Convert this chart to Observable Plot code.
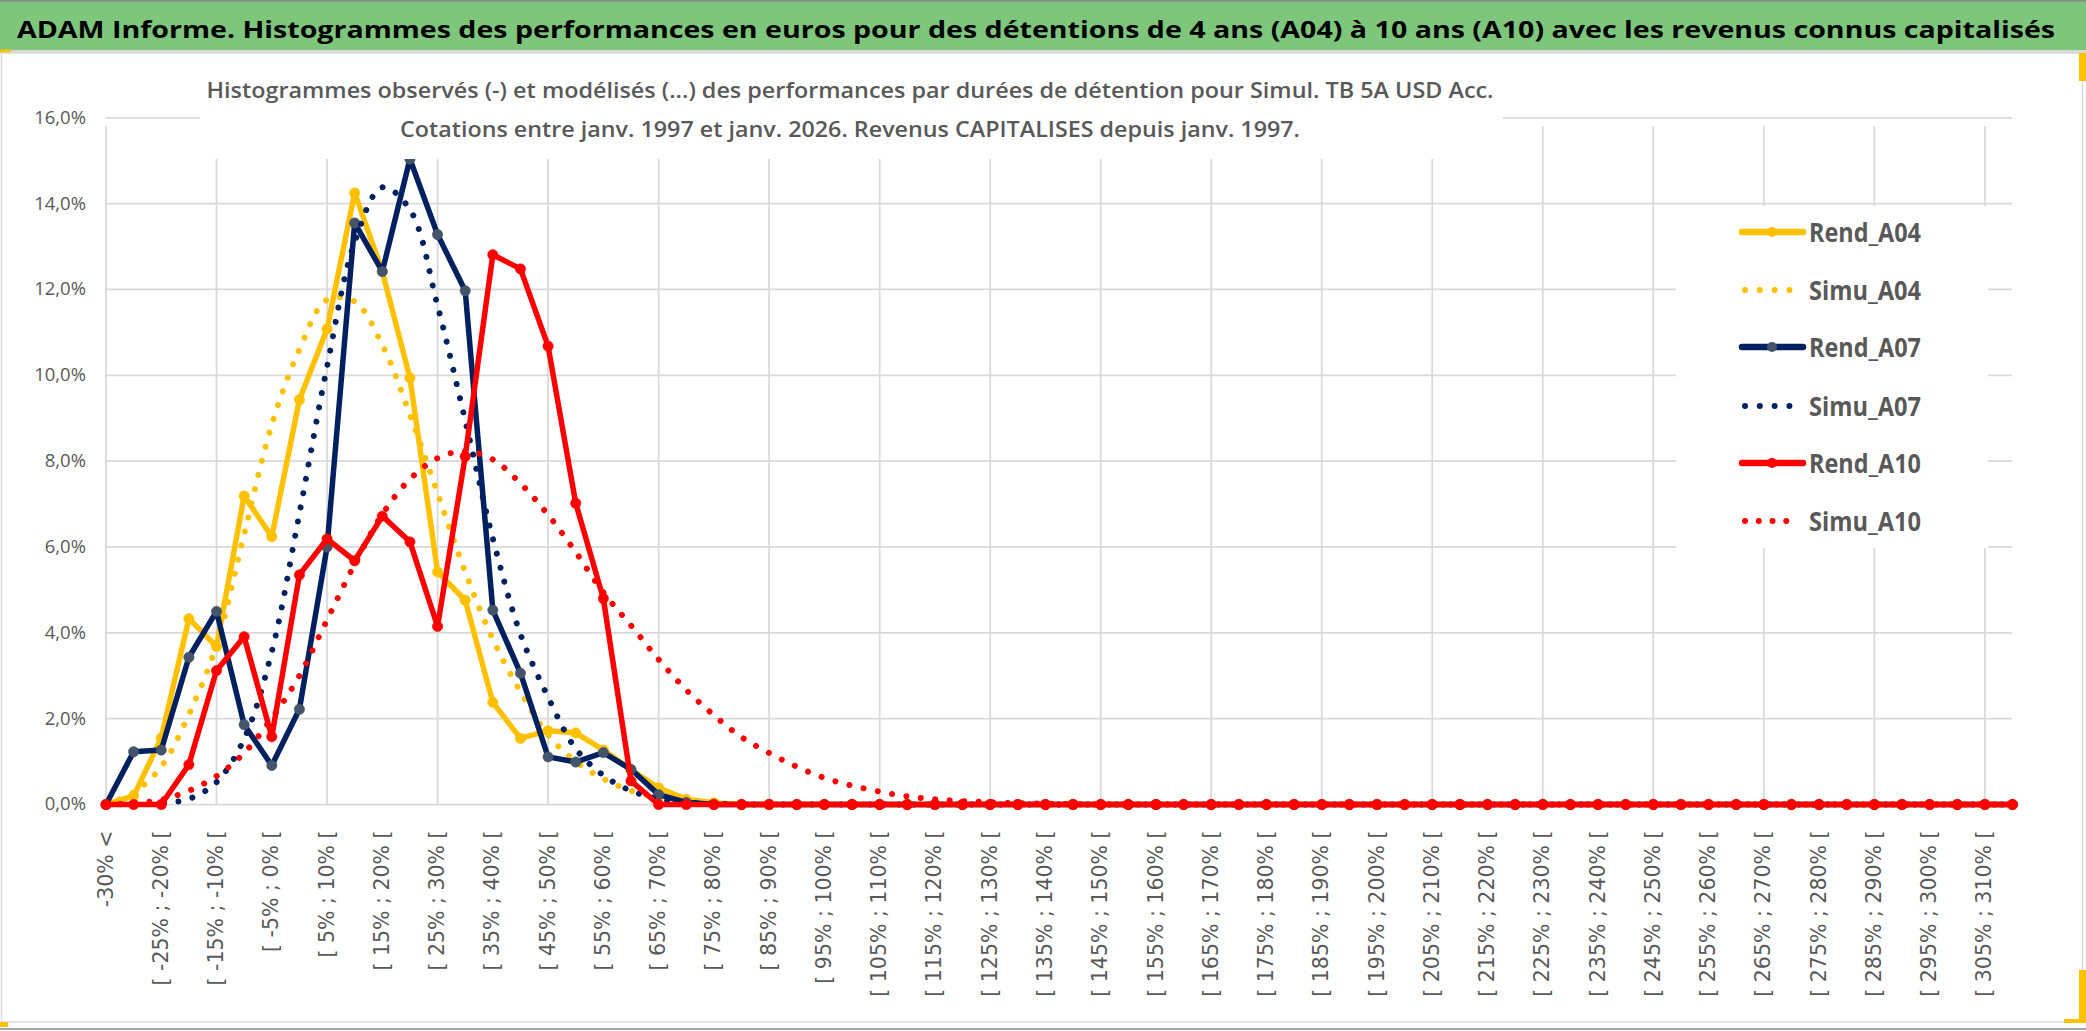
<!DOCTYPE html>
<html><head><meta charset="utf-8">
<script src="https://cdn.jsdelivr.net/npm/d3@7"></script>
<script src="https://cdn.jsdelivr.net/npm/@observablehq/plot@0.6"></script>
<style>
html,body{margin:0;padding:0;background:#fff;}
#root{position:relative;width:2086px;height:1031px;overflow:hidden;background:#fff;}
#chart{position:absolute;left:0;top:53px;}
#overlay{position:absolute;left:0;top:0;pointer-events:none;}
</style></head><body><div id="root"><div id="chart"></div></div>
<script>
const categories = [
"-30% <",
"[ -30% ; -25% [","[ -25% ; -20% [","[ -20% ; -15% [","[ -15% ; -10% [","[ -10% ; -5% [",
"[ -5% ; 0% [","[ 0% ; 5% [","[ 5% ; 10% [","[ 10% ; 15% [","[ 15% ; 20% [",
"[ 20% ; 25% [","[ 25% ; 30% [","[ 30% ; 35% [","[ 35% ; 40% [","[ 40% ; 45% [",
"[ 45% ; 50% [","[ 50% ; 55% [","[ 55% ; 60% [","[ 60% ; 65% [","[ 65% ; 70% [",
"[ 70% ; 75% [","[ 75% ; 80% [","[ 80% ; 85% [","[ 85% ; 90% [","[ 90% ; 95% [",
"[ 95% ; 100% [","[ 100% ; 105% [","[ 105% ; 110% [","[ 110% ; 115% [","[ 115% ; 120% [",
"[ 120% ; 125% [","[ 125% ; 130% [","[ 130% ; 135% [","[ 135% ; 140% [","[ 140% ; 145% [",
"[ 145% ; 150% [","[ 150% ; 155% [","[ 155% ; 160% [","[ 160% ; 165% [","[ 165% ; 170% [",
"[ 170% ; 175% [","[ 175% ; 180% [","[ 180% ; 185% [","[ 185% ; 190% [","[ 190% ; 195% [",
"[ 195% ; 200% [","[ 200% ; 205% [","[ 205% ; 210% [","[ 210% ; 215% [","[ 215% ; 220% [",
"[ 220% ; 225% [","[ 225% ; 230% [","[ 230% ; 235% [","[ 235% ; 240% [","[ 240% ; 245% [",
"[ 245% ; 250% [","[ 250% ; 255% [","[ 255% ; 260% [","[ 260% ; 265% [","[ 265% ; 270% [",
"[ 270% ; 275% [","[ 275% ; 280% [","[ 280% ; 285% [","[ 285% ; 290% [","[ 290% ; 295% [",
"[ 295% ; 300% [","[ 300% ; 305% [","[ 305% ; 310% [","310% >"
];

const rendA04 = [
0, 0.2, 1.55, 4.33, 3.68, 7.19, 6.24, 9.43, 11.08, 14.25,
12.42, 9.94, 5.42, 4.76, 2.38, 1.54, 1.72, 1.67, 1.27, 0.81,
0.39, 0.12, 0.04, 0, 0, 0, 0, 0, 0, 0,
0, 0, 0, 0, 0, 0, 0, 0, 0, 0,
0, 0, 0, 0, 0, 0, 0, 0, 0, 0,
0, 0, 0, 0, 0, 0, 0, 0, 0, 0,
0, 0, 0, 0, 0, 0, 0, 0, 0, 0
];
const simuA04 = [
0, 0.28, 0.88, 2.1, 3.72, 6.3, 8.85, 10.6, 11.76, 11.72,
10.71, 9.08, 7.25, 5.42, 3.85, 2.63, 1.62, 1.0, 0.6, 0.32,
0.16, 0.07, 0.03, 0.01, 0, 0, 0, 0, 0, 0,
0, 0, 0, 0, 0, 0, 0, 0, 0, 0,
0, 0, 0, 0, 0, 0, 0, 0, 0, 0,
0, 0, 0, 0, 0, 0, 0, 0, 0, 0,
0, 0, 0, 0, 0, 0, 0, 0, 0, 0
];
const rendA07 = [
0, 1.23, 1.27, 3.43, 4.5, 1.86, 0.91, 2.22, 6.0, 13.55,
12.42, 15.04, 13.28, 11.97, 4.53, 3.06, 1.11, 0.99, 1.21, 0.82,
0.23, 0.05, 0, 0, 0, 0, 0, 0, 0, 0,
0, 0, 0, 0, 0, 0, 0, 0, 0, 0,
0, 0, 0, 0, 0, 0, 0, 0, 0, 0,
0, 0, 0, 0, 0, 0, 0, 0, 0, 0,
0, 0, 0, 0, 0, 0, 0, 0, 0, 0
];
const simuA07 = [
0, 0.01, 0.03, 0.13, 0.52, 1.53, 3.56, 6.78, 10.2, 13.1,
14.38, 13.86, 11.62, 8.95, 6.2, 3.97, 2.5, 1.3, 0.68, 0.32,
0.13, 0.05, 0.02, 0, 0, 0, 0, 0, 0, 0,
0, 0, 0, 0, 0, 0, 0, 0, 0, 0,
0, 0, 0, 0, 0, 0, 0, 0, 0, 0,
0, 0, 0, 0, 0, 0, 0, 0, 0, 0,
0, 0, 0, 0, 0, 0, 0, 0, 0, 0
];
const rendA10 = [
0, 0, 0, 0.93, 3.12, 3.91, 1.58, 5.35, 6.19, 5.68,
6.72, 6.12, 4.15, 8.11, 12.81, 12.48, 10.68, 7.02, 4.8, 0.55,
0, 0, 0, 0, 0, 0, 0, 0, 0, 0,
0, 0, 0, 0, 0, 0, 0, 0, 0, 0,
0, 0, 0, 0, 0, 0, 0, 0, 0, 0,
0, 0, 0, 0, 0, 0, 0, 0, 0, 0,
0, 0, 0, 0, 0, 0, 0, 0, 0, 0
];
const simuA10 = [
0, 0.03, 0.11, 0.32, 0.66, 1.2, 2.01, 3.0, 4.3, 5.6,
6.76, 7.58, 8.07, 8.23, 8.04, 7.48, 6.75, 5.88, 4.94, 4.17,
3.38, 2.67, 2.08, 1.57, 1.2, 0.88, 0.62, 0.44, 0.3, 0.19,
0.12, 0.08, 0.05, 0.03, 0.02, 0.01, 0, 0, 0, 0,
0, 0, 0, 0, 0, 0, 0, 0, 0, 0,
0, 0, 0, 0, 0, 0, 0, 0, 0, 0,
0, 0, 0, 0, 0, 0, 0, 0, 0, 0
];

const seriesNames = ["Rend_A04", "Simu_A04", "Rend_A07", "Simu_A07", "Rend_A10", "Simu_A10"];
const seriesValues = [rendA04, simuA04, rendA07, simuA07, rendA10, simuA10];
const seriesColors = ["#FFC000", "#FFC000", "#002060", "#002060", "#FF0000", "#FF0000"];
const markerColors = ["#FFC000", null, "#44546A", null, "#FF0000", null];
const yTicks = [0, 2, 4, 6, 8, 10, 12, 14, 16];

const mainTitle = "ADAM Informe. Histogrammes des performances en euros pour des détentions de 4 ans (A04) à 10 ans (A10) avec les revenus connus capitalisés";
const chartTitle1 = "Histogrammes observés (-) et modélisés (...) des performances par durées de détention pour Simul. TB 5A USD Acc.";
const chartTitle2 = "Cotations entre janv. 1997 et janv. 2026. Revenus CAPITALISES depuis janv. 1997.";

const labeledCats = categories.filter((_, i) => i % 2 === 0 && i < 69);
const gridCats = categories.filter((_, i) => i % 4 === 0);

const marks = [
  Plot.ruleY(yTicks, {y: d => d, stroke: "#D9D9D9", strokeWidth: 1.75}),
  Plot.ruleX(gridCats, {x: d => d, y1: 0, y2: 16, insetBottom: -9, stroke: "#D9D9D9", strokeWidth: 1.75}),
  Plot.axisY({ticks: yTicks, tickFormat: d => d.toFixed(1).replace(".", ",") + "%", tickSize: 0, tickPadding: 20,
    fontSize: 18.5, fontFamily: "Open Sans", fill: "#595959", label: null}),
  Plot.axisX({ticks: labeledCats, tickRotate: -90, tickSize: 0, tickPadding: 26,
    fontSize: 20.5, fontFamily: "DejaVu Sans", fill: "#595959", label: null})
];

seriesNames.forEach((name, s) => {
  const data = seriesValues[s].map((v, i) => ({series: name, cat: categories[i], value: v}));
  if (markerColors[s]) {
    marks.push(Plot.line(data, {x: "cat", y: "value", stroke: seriesColors[s], strokeWidth: 5.5, strokeLinejoin: "round", strokeLinecap: "round"}));
    marks.push(Plot.dot(data, {x: "cat", y: "value", r: 5.2, fill: markerColors[s], stroke: markerColors[s], strokeWidth: 0.5}));
  } else {
    marks.push(Plot.line(data, {x: "cat", y: "value", stroke: seriesColors[s], strokeWidth: 6, strokeDasharray: "0.01 14.5", strokeLinecap: "round", curve: "catmull-rom"}));
  }
});

const plot = Plot.plot({
  width: 2086, height: 978,
  marginLeft: 105.5, marginRight: 74, marginTop: 64.3, marginBottom: 227,
  style: {background: "transparent", fontFamily: "Open Sans", overflow: "visible"},
  x: {type: "point", domain: categories, padding: 0},
  y: {domain: [0, 16]},
  marks
});
document.getElementById("chart").appendChild(plot);

// Overlay: header bar, frame, chart title, legend
const ov = d3.select("#root").append("svg").attr("id", "overlay").attr("width", 2086).attr("height", 1031);
ov.append("rect").attr("x", 0).attr("y", 0).attr("width", 2086).attr("height", 50).attr("fill", "#7DC67B");
ov.append("line").attr("x1", 0).attr("x2", 2086).attr("y1", 0.75).attr("y2", 0.75).attr("stroke", "#8C8C8C").attr("stroke-width", 1.5);
ov.append("rect").attr("x", 0).attr("y", 50).attr("width", 2086).attr("height", 3).attr("fill", "#D9D9D9");
ov.append("rect").attr("x", 0).attr("y", 49.5).attr("width", 11).attr("height", 3.5).attr("fill", "#FFC000");
ov.append("rect").attr("x", 1.5).attr("y", 53).attr("width", 2081).attr("height", 969).attr("fill", "none").attr("stroke", "#D9D9D9").attr("stroke-width", 1.5);
ov.append("line").attr("x1", 0).attr("x2", 2086).attr("y1", 1029).attr("y2", 1029).attr("stroke", "#A6A6A6").attr("stroke-width", 2);
ov.append("rect").attr("x", 2079).attr("y", 53).attr("width", 7).attr("height", 28).attr("fill", "#FFC000");
ov.append("rect").attr("x", 2079).attr("y", 970).attr("width", 7).attr("height", 53).attr("fill", "#FFC000");
ov.append("rect").attr("x", 2064).attr("y", 1019).attr("width", 22).attr("height", 4).attr("fill", "#FFC000");
ov.append("rect").attr("x", 0).attr("y", 1022).attr("width", 8).attr("height", 5).attr("fill", "#FFC000");

ov.append("text").attr("x", 17).attr("y", 37.5).attr("font-family", "Open Sans").attr("font-weight", 700)
  .attr("font-size", 24).attr("fill", "#000").attr("textLength", 2038).attr("lengthAdjust", "spacingAndGlyphs").text(mainTitle);

ov.append("rect").attr("x", 200).attr("y", 62).attr("width", 1303).attr("height", 97).attr("fill", "#fff");
ov.append("text").attr("x", 850).attr("y", 97.5).attr("text-anchor", "middle").attr("font-family", "Open Sans").attr("font-weight", 600)
  .attr("font-size", 22).attr("fill", "#595959").attr("textLength", 1287).attr("lengthAdjust", "spacingAndGlyphs").text(chartTitle1);
ov.append("text").attr("x", 850).attr("y", 137).attr("text-anchor", "middle").attr("font-family", "Open Sans").attr("font-weight", 600)
  .attr("font-size", 22).attr("fill", "#595959").attr("textLength", 900).attr("lengthAdjust", "spacingAndGlyphs").text(chartTitle2);

// legend
ov.append("rect").attr("x", 1676).attr("y", 206).attr("width", 312).attr("height", 342).attr("fill", "#fff");
const legendY = [232, 290, 347, 406, 463, 521];
seriesNames.forEach((name, s) => {
  const y = legendY[s];
  if (markerColors[s]) {
    ov.append("line").attr("x1", 1742).attr("x2", 1803).attr("y1", y).attr("y2", y)
      .attr("stroke", seriesColors[s]).attr("stroke-width", 6.5).attr("stroke-linecap", "round");
    ov.append("circle").attr("cx", 1772).attr("cy", y).attr("r", 5).attr("fill", markerColors[s]);
  } else {
    const last = s === 5;
    ov.append("line").attr("x1", 1745).attr("x2", last ? 1800 : 1790).attr("y1", y).attr("y2", y)
      .attr("stroke", seriesColors[s]).attr("stroke-width", 6).attr("stroke-linecap", "round")
      .attr("stroke-dasharray", last ? "0.01 13.75" : "0.01 14.8");
  }
  ov.append("text").attr("x", 1809).attr("y", y + 10).attr("font-family", "Open Sans").attr("font-weight", 700)
    .attr("font-size", 27).attr("fill", "#595959").attr("textLength", 112).attr("lengthAdjust", "spacingAndGlyphs").text(name);
});
</script></body></html>
